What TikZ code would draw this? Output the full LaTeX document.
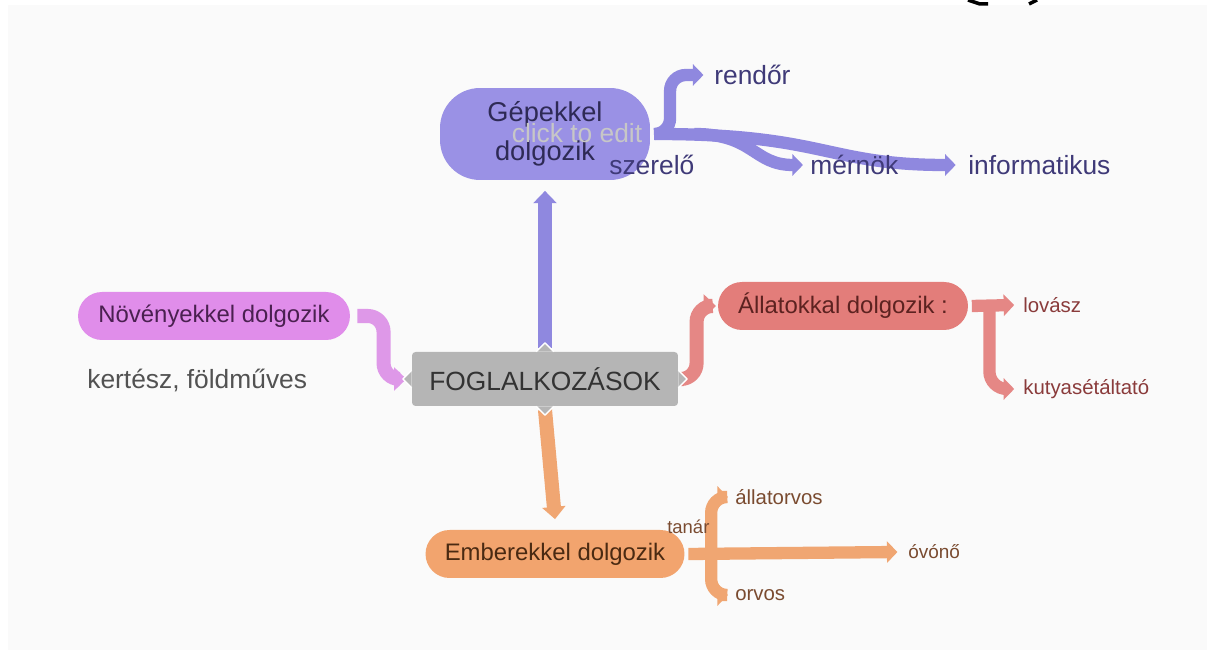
\documentclass[tikz,border=0pt]{standalone}
\usepackage{fontspec}
\setmainfont{Liberation Sans}
\usetikzlibrary{arrows.meta}
\pgfdeclarelayer{bg}
\pgfdeclarelayer{ribbons}
\pgfsetlayers{bg,ribbons,main}
\definecolor{bgc}{HTML}{FAFAFA}
\definecolor{gepc}{HTML}{9A91E5}
\definecolor{geprib}{HTML}{8F88DF}
\definecolor{geptext}{HTML}{2E2A55}
\definecolor{gepleaf}{HTML}{3F3A78}
\definecolor{novc}{HTML}{E08DEA}
\definecolor{novrib}{HTML}{DE98E8}
\definecolor{novtext}{HTML}{4A2050}
\definecolor{fogc}{HTML}{B5B5B5}
\definecolor{allc}{HTML}{E37D7A}
\definecolor{allrib}{HTML}{E58785}
\definecolor{alltext}{HTML}{5C2220}
\definecolor{allleaf}{HTML}{8A3B3B}
\definecolor{embc}{HTML}{F2A46E}
\definecolor{embrib}{HTML}{F0A672}
\definecolor{embtext}{HTML}{4A2A12}
\definecolor{embleaf}{HTML}{7A4B30}
\tikzset{
    every node/.style = {inner sep=0pt},
    topic/.style = {rounded corners=#1, minimum height=0.96cm, align=center,
                    font=\fontsize{13.6}{18}\selectfont},
    leaf/.style = {anchor=west, font=\fontsize{15}{18}\selectfont},
    small leaf/.style = {anchor=west, font=\fontsize{11.6}{14}\selectfont},
    ribbon/.style = {draw=#1, line width=8pt, -{Triangle[length=7pt,width=13pt]}},
    thin ribbon/.style = {draw=#1, line width=7pt, -{Triangle[length=6pt,width=12pt]}},
    chev/.style = {fill=fogc, draw=white, line width=0.8pt, line join=round}
}

\begin{document}
\begin{tikzpicture}[x=0.02cm, y=-0.02cm]
        \useasboundingbox (0,0) rectangle (1215,661);
        \begin{pgfonlayer}{bg}
            \fill[white] (0,0) rectangle (1215,661);
            \fill[bgc] (8,5) rectangle (1207,650);
            \draw[line width=2pt] (968,0) -- (980,4) -- (988,4);
            \draw[line width=2pt] (1029,4) -- (1037,0);
        \end{pgfonlayer}

        \node[topic=0.8cm, fill=gepc, minimum width=4.2cm, minimum height=1.84cm,
              text=geptext, font=\fontsize{15.5}{22}\selectfont] (gep) at (545,134) {Gépekkel\\dolgozik};
        \node[font=\fontsize{15}{18}\selectfont, text=black!22] (click) at (577,133) {click to edit};
        \node[topic=0.48cm, fill=novc, minimum width=5.44cm, text=novtext] (nov) at (214,316) {Növényekkel dolgozik};
        \node[fill=fogc, rounded corners=2pt, minimum width=5.32cm, minimum height=1.08cm,
              text=black!80, font=\fontsize{15}{18}\selectfont] (fog) at (545,379) {FOGLALKOZÁSOK};
        \node[topic=0.48cm, fill=allc, minimum width=5.0cm, text=alltext] (allat) at (843,306) {Állatokkal dolgozik :};
        \node[topic=0.48cm, fill=embc, minimum width=5.18cm, text=embtext] (emb) at (555,554) {Emberekkel dolgozik};

        \node[leaf, text=gepleaf] (rendor) at (714,75) {rendőr};
        \node[leaf, text=gepleaf] (szerelo) at (609,165) {szerelő};
        \node[leaf, text=gepleaf] (mernok) at (810,165) {mérnök};
        \node[leaf, text=gepleaf] (info) at (968,165) {informatikus};
        \node[leaf, text=black!68] (kertesz) at (87,380) {kertész, földműves};
        \node[small leaf, text=allleaf] (lovasz) at (1023,305) {lovász};
        \node[small leaf, text=allleaf] (kutya) at (1023,389) {kutyasétáltató};
        \node[small leaf, text=embleaf] (allatorv) at (735,497) {állatorvos};
        \node[small leaf, text=embleaf, font=\fontsize{10.8}{13}\selectfont] (ovono) at (908,552) {óvónő};
        \node[small leaf, text=embleaf] (orvos) at (735,595) {orvos};
        \node[small leaf, text=embleaf, font=\fontsize{10.5}{13}\selectfont] (tanar) at (667,527) {tanár};

        \begin{pgfonlayer}{ribbons}
        \draw[ribbon=geprib] ([yshift=2pt]fog.north) -- ([yshift=-6pt]gep.south);
        \draw[ribbon=novrib, rounded corners=9pt] ([xshift=4pt]nov.east) -| ([xshift=-16pt]fog.west) -- ([xshift=-3pt]fog.west);
        \draw[ribbon=allrib, rounded corners=9pt] ([xshift=3pt]fog.east) -| ([xshift=-12pt]allat.west) -- ([xshift=-1pt]allat.west);
        \draw[ribbon=embrib] ([yshift=-2pt]fog.south) -- ([yshift=6pt]emb.north);

        \draw[thin ribbon=geprib, rounded corners=9pt] ([xshift=3pt]gep.east) -| ([xshift=-25pt]rendor.west) -- ([xshift=-6pt]rendor.west);
        \draw[thin ribbon=geprib] ([xshift=3pt]gep.east) .. controls +(170,0) and +(-130,0) .. ([xshift=-7pt]info.west);
        \draw[thin ribbon=geprib] ([xshift=25pt]gep.east) .. controls +(60,0) and +(-50,0) .. ([xshift=-4pt]mernok.west);

        \draw[thin ribbon=allrib] ([xshift=2pt]allat.east) -- ([xshift=-5pt]lovasz.west);
        \draw[thin ribbon=allrib, rounded corners=10pt] ([xshift=12pt]allat.east) |- ([xshift=-5pt]kutya.west);

        \draw[thin ribbon=embrib] ([xshift=2pt]emb.east) -- ([xshift=-6pt]ovono.west);
        \draw[thin ribbon=embrib, rounded corners=9pt] ([xshift=15pt]emb.east) |- ([xshift=-4pt]allatorv.west);
        \draw[thin ribbon=embrib, rounded corners=9pt] ([xshift=15pt]emb.east) |- ([xshift=-4pt]orvos.west);
        \end{pgfonlayer}

        \filldraw[chev] ([xshift=-5pt]fog.north) -- ([yshift=5pt]fog.north) -- ([xshift=5pt]fog.north);
        \filldraw[chev] ([xshift=-5pt]fog.south) -- ([yshift=-5pt]fog.south) -- ([xshift=5pt]fog.south);
        \filldraw[chev] ([yshift=5pt]fog.west) -- ([xshift=-5pt]fog.west) -- ([yshift=-5pt]fog.west);
        \filldraw[chev] ([yshift=5pt]fog.east) -- ([xshift=5pt]fog.east) -- ([yshift=-5pt]fog.east);
\end{tikzpicture}
\end{document}
